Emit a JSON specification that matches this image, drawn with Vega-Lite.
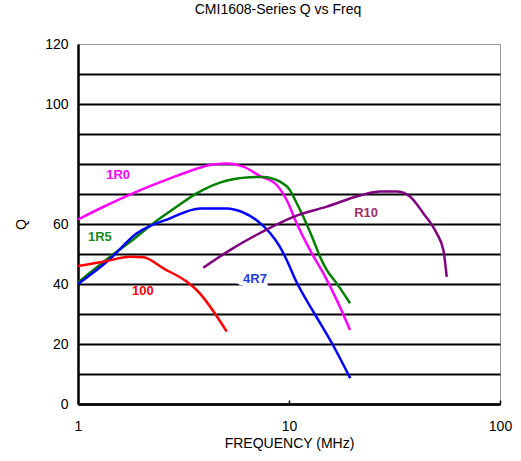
{
  "$schema": "https://vega.github.io/schema/vega-lite/v6.json",
  "width": 422,
  "height": 360,
  "autosize": "none",
  "padding": {"left": 78, "top": 44, "right": 21, "bottom": 57},
  "background": "white",
  "title": {"text": "CMI1608-Series Q vs Freq", "font": "Liberation Sans", "fontSize": 14, "fontWeight": "normal", "color": "black", "offset": 20, "dx": -11},
  "config": {"view": {"stroke": "#999999", "strokeWidth": 1}},
  "datasets": {
    "series": [
      {"s": "1R0", "f": 1, "q": 61.5}, {"s": "1R0", "f": 1.3, "q": 65.5}, {"s": "1R0", "f": 1.9, "q": 70.8}, {"s": "1R0", "f": 2.73, "q": 75.2}, {"s": "1R0", "f": 3.5, "q": 78}, {"s": "1R0", "f": 4.22, "q": 79.7}, {"s": "1R0", "f": 5.07, "q": 80.2}, {"s": "1R0", "f": 6.07, "q": 79.1}, {"s": "1R0", "f": 7.29, "q": 76.0}, {"s": "1R0", "f": 8.74, "q": 73.0}, {"s": "1R0", "f": 9.75, "q": 68.0}, {"s": "1R0", "f": 10.88, "q": 60.2}, {"s": "1R0", "f": 12.58, "q": 51.3}, {"s": "1R0", "f": 14.54, "q": 43.6}, {"s": "1R0", "f": 16.83, "q": 34.7}, {"s": "1R0", "f": 19.46, "q": 24.7},
      {"s": "1R5", "f": 1, "q": 40.5}, {"s": "1R5", "f": 1.39, "q": 48.6}, {"s": "1R5", "f": 1.8, "q": 54.5}, {"s": "1R5", "f": 2.27, "q": 60.2}, {"s": "1R5", "f": 2.9, "q": 65.5}, {"s": "1R5", "f": 3.65, "q": 70.2}, {"s": "1R5", "f": 4.71, "q": 73.8}, {"s": "1R5", "f": 6.53, "q": 75.6}, {"s": "1R5", "f": 7.5, "q": 75.7}, {"s": "1R5", "f": 9.07, "q": 74.1}, {"s": "1R5", "f": 10.1, "q": 71.3}, {"s": "1R5", "f": 10.88, "q": 66.9}, {"s": "1R5", "f": 11.69, "q": 62.4}, {"s": "1R5", "f": 13.04, "q": 54.7}, {"s": "1R5", "f": 14.03, "q": 49.1}, {"s": "1R5", "f": 15.09, "q": 44.7}, {"s": "1R5", "f": 16.83, "q": 40.2}, {"s": "1R5", "f": 19.46, "q": 33.6},
      {"s": "4R7", "f": 1, "q": 40}, {"s": "4R7", "f": 1.4, "q": 48}, {"s": "4R7", "f": 1.9, "q": 56.9}, {"s": "4R7", "f": 2.73, "q": 61.9}, {"s": "4R7", "f": 3.79, "q": 65.2}, {"s": "4R7", "f": 5.07, "q": 65.2}, {"s": "4R7", "f": 6.0, "q": 64.0}, {"s": "4R7", "f": 7.0, "q": 61.3}, {"s": "4R7", "f": 8.13, "q": 57.0}, {"s": "4R7", "f": 9.0, "q": 52.7}, {"s": "4R7", "f": 9.75, "q": 48.0}, {"s": "4R7", "f": 10.88, "q": 40.5}, {"s": "4R7", "f": 12.13, "q": 34.5}, {"s": "4R7", "f": 13.5, "q": 29.0}, {"s": "4R7", "f": 16.2, "q": 19.5}, {"s": "4R7", "f": 19.5, "q": 8.6},
      {"s": "100", "f": 1, "q": 46}, {"s": "100", "f": 1.32, "q": 47.4}, {"s": "100", "f": 1.76, "q": 49.1}, {"s": "100", "f": 2.04, "q": 48.9}, {"s": "100", "f": 2.54, "q": 45.2}, {"s": "100", "f": 3.27, "q": 40.8}, {"s": "100", "f": 3.65, "q": 38}, {"s": "100", "f": 5.07, "q": 24.1},
      {"s": "R10", "f": 3.92, "q": 45.4}, {"s": "R10", "f": 5.25, "q": 51.3}, {"s": "R10", "f": 7.29, "q": 57.0}, {"s": "R10", "f": 10.5, "q": 62.4}, {"s": "R10", "f": 15.1, "q": 65.8}, {"s": "R10", "f": 21.7, "q": 69.5}, {"s": "R10", "f": 27, "q": 70.8}, {"s": "R10", "f": 32.4, "q": 70.8}, {"s": "R10", "f": 37.5, "q": 69.1}, {"s": "R10", "f": 43.3, "q": 63.6}, {"s": "R10", "f": 50.1, "q": 56.9}, {"s": "R10", "f": 53.9, "q": 51.3}, {"s": "R10", "f": 55.9, "q": 42.4}
    ],
    "labels": [
      {"s": "1R0", "f": 1.55, "q": 76.3},
      {"s": "1R5", "f": 1.27, "q": 55.7},
      {"s": "100", "f": 2.03, "q": 37.7},
      {"s": "4R7", "f": 6.9, "q": 41.7},
      {"s": "R10", "f": 23.2, "q": 63.7}
    ]
  },
  "encoding": {
    "x": {
      "field": "f", "type": "quantitative",
      "scale": {"type": "log", "domain": [1, 100]},
      "axis": {
        "values": [1, 10, 100], "format": "~g", "title": "FREQUENCY (MHz)",
        "grid": false, "domainColor": "black", "domainWidth": 2.5,
        "tickColor": "black", "tickSize": -4, "tickWidth": 1.5,
        "labelFlush": false, "labelOverlap": false,
        "labelFont": "Liberation Sans", "labelFontSize": 14, "labelColor": "black", "labelPadding": 19,
        "titleFont": "Liberation Sans", "titleFontSize": 14, "titleFontWeight": "normal", "titleColor": "black", "titlePadding": 3
      }
    },
    "y": {
      "field": "q", "type": "quantitative",
      "scale": {"domain": [0, 120]},
      "axis": {
        "values": [0, 10, 20, 30, 40, 50, 60, 70, 80, 90, 100, 110, 120],
        "labelExpr": "datum.value % 20 == 0 && datum.value != 80 ? datum.label : ''",
        "title": "Q", "grid": true,
        "gridColor": {"condition": {"test": "datum.value == 120", "value": "#999999"}, "value": "black"},
        "gridWidth": {"condition": {"test": "datum.value == 120", "value": 1}, "value": 2},
        "ticks": false, "domainColor": "black", "domainWidth": 2.5,
        "labelFlush": false,
        "labelFont": "Liberation Sans", "labelFontSize": 14, "labelColor": "black", "labelPadding": 10,
        "titleFont": "Liberation Sans", "titleFontSize": 14, "titleFontWeight": "normal", "titleColor": "black", "titlePadding": 16
      }
    }
  },
  "layer": [
    {
      "data": {"name": "series"},
      "mark": {"type": "line", "strokeWidth": 2.5, "interpolate": "monotone"},
      "encoding": {
        "color": {"field": "s", "type": "nominal", "legend": null,
          "scale": {"domain": ["1R0", "1R5", "4R7", "100", "R10"], "range": ["#FF00FF", "#008000", "#0000FF", "#FF0000", "#800080"]}},
        "detail": {"field": "s"}
      }
    },
    {
      "data": {"name": "labels"},
      "transform": [{"filter": "datum.s == '4R7'"}],
      "mark": {"type": "text", "font": "Liberation Sans", "fontSize": 13, "fontWeight": "bold", "stroke": "white", "strokeWidth": 8, "fill": "white"},
      "encoding": {"text": {"field": "s"}}
    },
    {
      "data": {"name": "labels"},
      "mark": {"type": "text", "font": "Liberation Sans", "fontSize": 13, "fontWeight": "bold"},
      "encoding": {
        "text": {"field": "s"},
        "color": {"field": "s", "type": "nominal", "legend": null,
          "scale": {"domain": ["1R0", "1R5", "4R7", "100", "R10"], "range": ["#FF00FF", "#1A8A1A", "#1F3FE0", "#FF0000", "#993366"]}}
      }
    }
  ],
  "resolve": {"scale": {"color": "independent"}}
}
